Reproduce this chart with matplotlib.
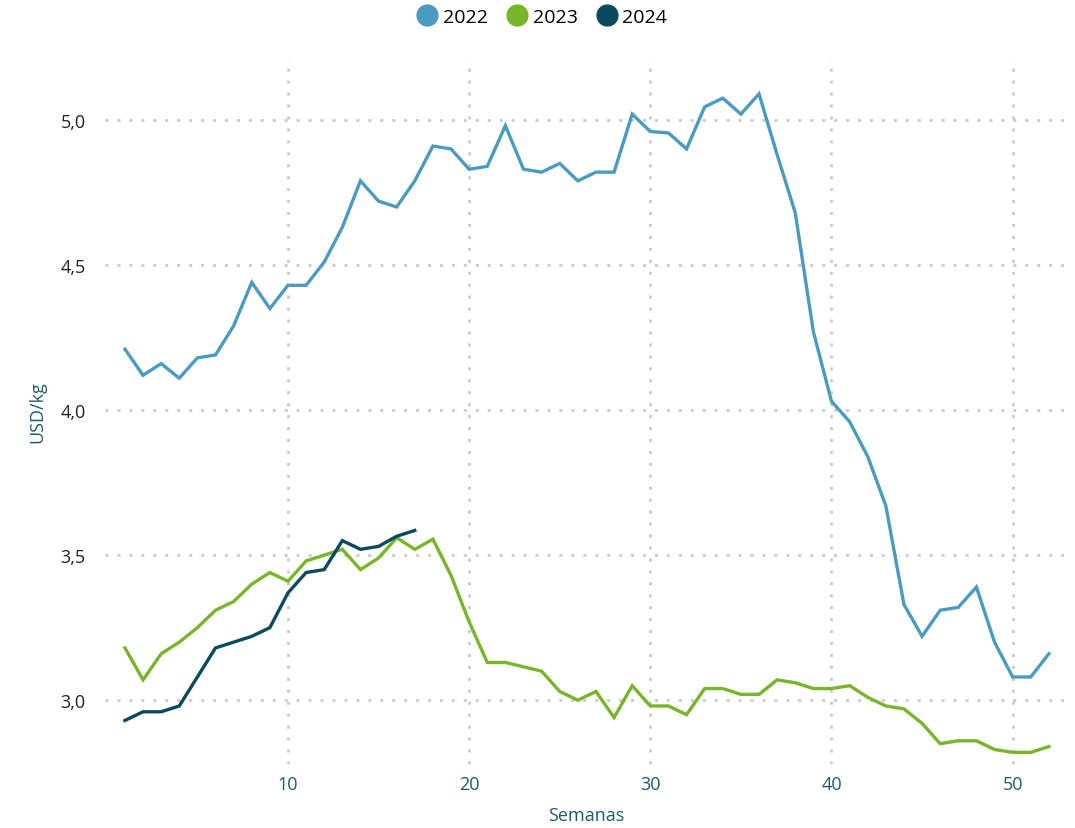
import matplotlib
matplotlib.use('Agg')
import matplotlib.pyplot as plt
from matplotlib.lines import Line2D
from matplotlib.ticker import FuncFormatter

plt.rcParams['font.family'] = ['Open Sans', 'DejaVu Sans']

# precio semanal, USD/kg
weeks_2022 = list(range(1, 53))
price_2022 = [4.21, 4.12, 4.16, 4.11, 4.18, 4.19, 4.29, 4.44, 4.35, 4.43,
              4.43, 4.51, 4.63, 4.79, 4.72, 4.70, 4.79, 4.91, 4.90, 4.83,
              4.84, 4.98, 4.83, 4.82, 4.85, 4.79, 4.82, 4.82, 5.02, 4.96,
              4.955, 4.90, 5.045, 5.075, 5.02, 5.09, 4.88, 4.68, 4.27, 4.03,
              3.96, 3.84, 3.67, 3.33, 3.22, 3.31, 3.32, 3.39, 3.20, 3.08,
              3.08, 3.16]

weeks_2023 = list(range(1, 53))
price_2023 = [3.18, 3.07, 3.16, 3.20, 3.25, 3.31, 3.34, 3.40, 3.44, 3.41,
              3.48, 3.50, 3.52, 3.45, 3.49, 3.56, 3.52, 3.555, 3.43, 3.27,
              3.13, 3.13, 3.115, 3.10, 3.03, 3.00, 3.03, 2.94, 3.05, 2.98,
              2.98, 2.95, 3.04, 3.04, 3.02, 3.02, 3.07, 3.06, 3.04, 3.04,
              3.05, 3.01, 2.98, 2.97, 2.92, 2.85, 2.86, 2.86, 2.83, 2.82,
              2.82, 2.84]

weeks_2024 = list(range(1, 18))
price_2024 = [2.93, 2.96, 2.96, 2.98, 3.08, 3.18, 3.20, 3.22, 3.25, 3.37,
              3.44, 3.45, 3.55, 3.52, 3.53, 3.565, 3.585]

series = [('2022', weeks_2022, price_2022, '#4a9bbf'),
          ('2023', weeks_2023, price_2023, '#78b52a'),
          ('2024', weeks_2024, price_2024, '#0b4a5e')]

fig = plt.figure(figsize=(10.75, 8.29), dpi=100)
ax = fig.add_axes([105/1075, 1 - 765/829, (1067-105)/1075, (765-60)/829])

for name, x, y, c in series:
    ax.plot(x, y, color=c, lw=2.4, solid_joinstyle='miter', label=name)

ax.set_xlim(-0.1, 53)
ax.set_ylim(2.78, 5.21)
ax.set_xticks([10, 20, 30, 40, 50])
ax.set_yticks([3.0, 3.5, 4.0, 4.5, 5.0])
ax.yaxis.set_major_formatter(FuncFormatter(lambda v, p: f'{v:.1f}'.replace('.', ',')))

ax.grid(True, color='#cbcbcb', lw=2, linestyle=(0, (1.1, 3.2)))
ax.set_axisbelow(True)
for s in ax.spines.values():
    s.set_visible(False)
ax.tick_params(length=0, labelsize=13)
ax.tick_params(axis='x', colors='#1f5a72', pad=8)
ax.tick_params(axis='y', colors='#222222', pad=14)

ax.set_xlabel('Semanas', color='#1f5a72', fontsize=13, labelpad=9)
ax.set_ylabel('USD/kg', color='#1f5a72', fontsize=13, labelpad=10)

handles = [Line2D([], [], marker='o', ls='', markersize=15, color=c) for _, _, _, c in series]
fig.legend(handles, [s[0] for s in series], loc='upper center', bbox_to_anchor=(0.5, 1.01),
           ncol=3, frameon=False, fontsize=14, handletextpad=-0.2, columnspacing=0.5)

fig.savefig('out.png', dpi=100)
